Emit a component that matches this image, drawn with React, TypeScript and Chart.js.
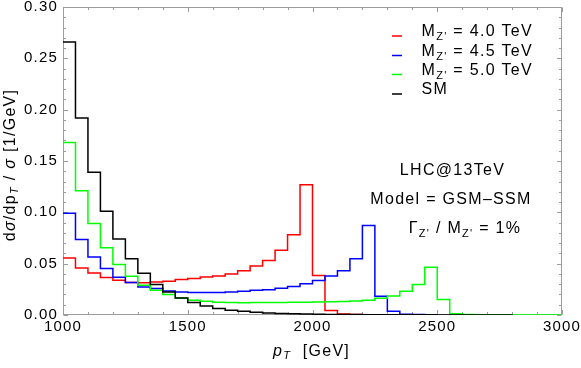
import React, { useEffect, useRef } from 'react';
import { Chart, registerables } from 'chart.js';

Chart.register(...registerables);

// ---------- data ----------
const binEdges = [
  1000, 1050, 1100, 1150, 1200, 1250, 1300, 1350, 1400, 1450,
  1500, 1550, 1600, 1650, 1700, 1750, 1800, 1850, 1900, 1950,
  2000, 2050, 2100, 2150, 2200, 2250, 2300, 2350, 2400, 2450,
  2500, 2550, 2600, 2650, 2700, 2750, 2800, 2850, 2900, 2950, 3000,
];

const mz40 = [
  0.0556, 0.0459, 0.041, 0.0365, 0.0339, 0.0316, 0.0313, 0.0322, 0.0329, 0.0345,
  0.0355, 0.0371, 0.0381, 0.04, 0.043, 0.0478, 0.053, 0.0631, 0.0781, 0.1269,
  0.0384, 0.0043, 0.001, 0.0004,
];

const mz45 = [
  0.099, 0.0736, 0.0566, 0.0453, 0.0368, 0.0316, 0.0273, 0.0257, 0.0234, 0.0224,
  0.0218, 0.0218, 0.022, 0.0224, 0.0231, 0.0241, 0.0245, 0.026, 0.0278, 0.0305,
  0.0335, 0.038, 0.043, 0.0547, 0.0872, 0.0182, 0.0036, 0.0008, 0.0004, 0.0003,
];

const mz50 = [
  0.168, 0.121, 0.0892, 0.0654, 0.0492, 0.0378, 0.029, 0.0241, 0.0199, 0.0166,
  0.0143, 0.0133, 0.0125, 0.0122, 0.012, 0.0121, 0.0121, 0.0122, 0.0123, 0.0124,
  0.0126, 0.0128, 0.0131, 0.0137, 0.0144, 0.0163, 0.0186, 0.0232, 0.0296, 0.0466,
  0.015, 0.0013, 0.0004, 0.0002, 0.0002, 0.0001, 0.0001, 0.0001, 0.0001, 0.0001,
];

const sm = [
  0.266, 0.192, 0.139, 0.101, 0.074, 0.0547, 0.0407, 0.0296, 0.0225, 0.0166,
  0.0121, 0.0088, 0.0063, 0.0047, 0.0036, 0.0026, 0.002, 0.0015, 0.0011, 0.0009,
  0.0007, 0.0006, 0.0005, 0.0004, 0.0003, 0.0003, 0.0002, 0.0002, 0.0002, 0.0002,
  0.0001, 0.0001, 0.0001, 0.0001, 0.0001, 0.0001,
];

const massLabels = ['4.0', '4.5', '5.0'];
const smLabel = 'SM';
const seriesColors = ['#ff0000', '#0000ff', '#00ff00', '#000000'];

const xTickValues = [1000, 1500, 2000, 2500, 3000];
const yTickValues = [0, 0.05, 0.1, 0.15, 0.2, 0.25, 0.3];
const xMinorStep = 100;
const yMinorStep = 0.01;

const annotationLines = ['LHC@13TeV', 'Model = GSM\u2013SSM', '1%'];

// ---------- helpers ----------
const FONT = "'Liberation Sans', Arial, Helvetica, sans-serif";

type Seg = { t: string; size?: number; italic?: boolean; dy?: number };

function drawRich(
  ctx: CanvasRenderingContext2D,
  segs: Seg[],
  x: number,
  y: number,
  align: 'left' | 'center' | 'right',
  base = 16,
  sp = 1.3,
) {
  ctx.save();
  (ctx as any).letterSpacing = sp + 'px';
  ctx.textBaseline = 'alphabetic';
  ctx.textAlign = 'left';
  ctx.fillStyle = '#000';
  const fontOf = (s: Seg) => `${s.italic ? 'italic ' : ''}${s.size ?? base}px ${FONT}`;
  let total = 0;
  const widths = segs.map((s) => {
    ctx.font = fontOf(s);
    const w = ctx.measureText(s.t).width;
    total += w;
    return w;
  });
  let cx = align === 'center' ? x - total / 2 : align === 'right' ? x - total : x;
  segs.forEach((s, i) => {
    ctx.font = fontOf(s);
    ctx.fillText(s.t, cx, y + (s.dy ?? 0));
    cx += widths[i];
  });
  ctx.restore();
}

function toSteps(values: number[]) {
  const pts = values.map((v, i) => ({ x: binEdges[i], y: v }));
  pts.push({ x: binEdges[values.length], y: 0 });
  return pts;
}

const decorPlugin = {
  id: 'decor',
  beforeDraw(chart: any) {
    chart.ctx.letterSpacing = '1.2px';
  },
  beforeDatasetsDraw(chart: any) {
    const { ctx, chartArea: a, scales } = chart;
    const xs = scales.x;
    const ys = scales.y;
    ctx.save();
    ctx.strokeStyle = '#9c9c9c';
    ctx.lineWidth = 1;
    const L = Math.round(a.left) + 0.5;
    const R = Math.round(a.right) - 0.5;
    const T = Math.round(a.top) + 0.5;
    const B = Math.round(a.bottom) - 0.5;
    ctx.strokeRect(L, T, R - L, B - T);
    ctx.beginPath();
    for (let v = xs.min; v <= xs.max + 1e-9; v += xMinorStep) {
      const px = Math.round(xs.getPixelForValue(v)) + 0.5;
      const len = Math.abs(v % 500) < 1e-6 ? 4.5 : 2.5;
      ctx.moveTo(px, B);
      ctx.lineTo(px, B - len);
      ctx.moveTo(px, T);
      ctx.lineTo(px, T + len);
    }
    for (let i = 0; i * yMinorStep <= ys.max + 1e-9; i++) {
      const v = i * yMinorStep;
      const py = Math.round(ys.getPixelForValue(v)) + 0.5;
      const len = i % 5 === 0 ? 4.5 : 2.5;
      ctx.moveTo(L, py);
      ctx.lineTo(L + len, py);
      ctx.moveTo(R, py);
      ctx.lineTo(R - len, py);
    }
    ctx.stroke();
    ctx.restore();
  },
  afterDatasetsDraw(chart: any) {
    const { ctx } = chart;
    // legend
    const rows: Seg[][] = [
      ...massLabels.map((m) => [
        { t: 'M' },
        { t: "Z'", size: 11, dy: 4 },
        { t: ` = ${m} TeV` },
      ]),
      [{ t: smLabel }],
    ];
    const baseY = [36, 55.5, 74.5, 94];
    const order = [0, 1, 2, 3];
    order.forEach((i) => {
      const y = baseY[i];
      ctx.save();
      ctx.strokeStyle = seriesColors[i];
      ctx.lineWidth = 1.5;
      ctx.beginPath();
      ctx.moveTo(392, y);
      ctx.lineTo(402, y);
      ctx.stroke();
      ctx.restore();
      drawRich(ctx, rows[i], 421.5, y, 'left');
    });
    // annotations
    drawRich(ctx, [{ t: annotationLines[0] }], 452.5, 175, 'center');
    drawRich(ctx, [{ t: annotationLines[1] }], 451, 203.5, 'center');
    drawRich(
      ctx,
      [
        { t: '\u0393' },
        { t: "Z'", size: 11, dy: 4 },
        { t: ' / M' },
        { t: "Z'", size: 11, dy: 4 },
        { t: ' = ' + annotationLines[2] },
      ],
      465,
      232.5,
      'center',
    );
    // x title
    drawRich(
      ctx,
      [
        { t: 'p', italic: true },
        { t: 'T', italic: true, size: 11, dy: 3 },
        { t: '  [GeV]' },
      ],
      273,
      355.5,
      'left',
    );
    // y title
    ctx.save();
    ctx.translate(15, 165);
    ctx.rotate(-Math.PI / 2);
    drawRich(
      ctx,
      [
        { t: 'd' },
        { t: '\u03c3', italic: true },
        { t: '/dp' },
        { t: 'T', italic: true, size: 11, dy: 3 },
        { t: ' / ' },
        { t: '\u03c3', italic: true },
        { t: ' [1/GeV]' },
      ],
      0,
      0,
      'center',
    );
    ctx.restore();
  },
};

export default function App() {
  const ref = useRef<HTMLCanvasElement | null>(null);

  useEffect(() => {
    document.body.style.margin = '0';
    const canvas = ref.current;
    if (!canvas) return;
    const series = [
      { data: toSteps(sm), color: seriesColors[3] },
      { data: toSteps(mz50), color: seriesColors[2] },
      { data: toSteps(mz45), color: seriesColors[1] },
      { data: toSteps(mz40), color: seriesColors[0] },
    ];
    const chart = new Chart(canvas, {
      type: 'line',
      data: {
        datasets: series.map((s) => ({
          data: s.data,
          borderColor: s.color,
          backgroundColor: s.color,
          borderWidth: 1.5,
          stepped: 'before' as const,
          pointRadius: 0,
          fill: false,
          tension: 0,
        })),
      },
      options: {
        responsive: false,
        animation: false,
        devicePixelRatio: 1,
        layout: { padding: { left: 0, right: 19, top: 7, bottom: 0 } },
        plugins: { legend: { display: false }, tooltip: { enabled: false } },
        scales: {
          x: {
            type: 'linear',
            min: 1000,
            max: 3000,
            afterBuildTicks: (s: any) => {
              s.ticks = xTickValues.map((v) => ({ value: v }));
            },
            afterFit: (s: any) => {
              s.height = 53;
              s.paddingLeft = 0;
              s.paddingRight = 0;
            },
            ticks: {
              color: '#000',
              font: { family: FONT, size: 15 },
              padding: 3,
              maxRotation: 0,
              autoSkip: false,
              callback: (v: any) => String(v),
            },
            grid: { display: false, drawTicks: false },
            border: { display: false },
          },
          y: {
            type: 'linear',
            min: 0,
            max: 0.3,
            afterBuildTicks: (s: any) => {
              s.ticks = yTickValues.map((v) => ({ value: v }));
            },
            afterFit: (s: any) => {
              s.width = 63;
              s.paddingTop = 0;
              s.paddingBottom = 0;
            },
            ticks: {
              color: '#000',
              font: { family: FONT, size: 15 },
              padding: 5,
              autoSkip: false,
              callback: (v: any) => Number(v).toFixed(2),
            },
            grid: { display: false, drawTicks: false },
            border: { display: false },
          },
        },
      },
      plugins: [decorPlugin],
    });
    return () => chart.destroy();
  }, []);

  return (
    <div style={{ position: 'fixed', left: 0, top: 0, width: 581, height: 368, background: '#fff' }}>
      <canvas ref={ref} width={581} height={368} style={{ display: 'block' }} />
    </div>
  );
}
